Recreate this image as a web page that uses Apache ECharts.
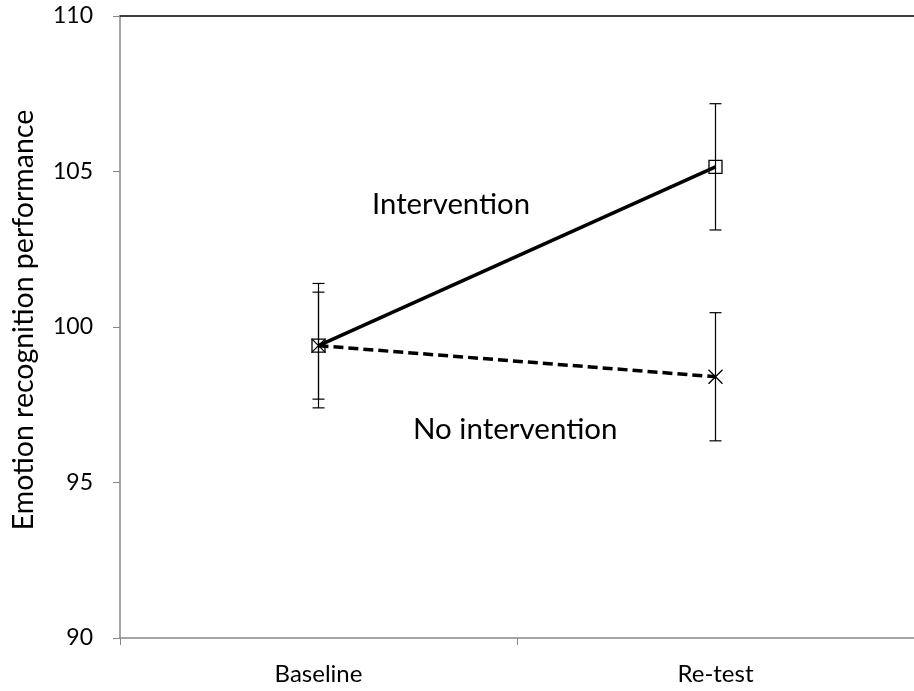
<!DOCTYPE html>
<html>
<head>
<meta charset="utf-8">
<script src="https://cdn.jsdelivr.net/npm/echarts@6/dist/echarts.min.js"></script>
<style>
html,body{margin:0;padding:0;background:#fff;}
#chart{width:914px;height:691px;}
</style>
</head>
<body>
<div id="chart"></div>
<script>
var categories = ['Baseline', 'Re-test'];
var interventionMean = [99.4, 105.15];
var interventionErr = [2.0, 2.03];
var noInterventionMean = [99.4, 98.4];
var noInterventionErr = [1.72, 2.06];
var yTicks = [90, 95, 100, 105, 110];

var FONT = 'Lato';
var chart = echarts.init(document.getElementById('chart'));

function errorSeries(name, means, errs) {
  var data = means.map(function (m, i) { return [i, m - errs[i], m + errs[i]]; });
  return {
    type: 'custom',
    name: name,
    z: 1,
    silent: true,
    data: data,
    encode: { x: 0, y: [1, 2] },
    renderItem: function (params, api) {
      var x = api.value(0);
      var lo = api.coord([x, api.value(1)]);
      var hi = api.coord([x, api.value(2)]);
      var hw = 6;
      var st = { stroke: '#000', lineWidth: 1.2, fill: null };
      return {
        type: 'group',
        children: [
          { type: 'line', shape: { x1: hi[0], y1: hi[1], x2: lo[0], y2: lo[1] }, style: st },
          { type: 'line', shape: { x1: hi[0] - hw, y1: hi[1], x2: hi[0] + hw, y2: hi[1] }, style: st },
          { type: 'line', shape: { x1: lo[0] - hw, y1: lo[1], x2: lo[0] + hw, y2: lo[1] }, style: st }
        ]
      };
    }
  };
}

var option = {
  backgroundColor: '#fff',
  animation: false,
  grid: { left: 120, top: 16, width: 800, height: 622, containLabel: false },
  xAxis: [{
    type: 'category',
    data: categories,
    boundaryGap: true,
    axisLine: { show: true, lineStyle: { color: '#888', width: 1.5 } },
    axisTick: { show: true, alignWithLabel: false, length: 7, lineStyle: { color: '#888' } },
    axisLabel: { color: '#000', fontFamily: FONT, fontSize: 24, margin: 24 },
    splitLine: { show: false }
  }, {
    type: 'category',
    data: categories,
    position: 'top',
    boundaryGap: true,
    axisLine: { show: true, lineStyle: { color: '#000', width: 1.5 } },
    axisTick: { show: false },
    axisLabel: { show: false },
    splitLine: { show: false }
  }],
  yAxis: {
    type: 'value',
    min: 90,
    max: 110,
    interval: 5,
    name: 'Emotion recognition performance',
    nameLocation: 'middle',
    nameGap: 82,
    nameTextStyle: { color: '#000', fontFamily: FONT, fontSize: 28.5, padding: [0, 0, 0, 14] },
    axisLine: { show: true, lineStyle: { color: '#888', width: 1.5 } },
    axisTick: { show: true, length: 7, lineStyle: { color: '#888' } },
    axisLabel: { color: '#000', fontFamily: FONT, fontSize: 23, margin: 27,
      formatter: function (v) { return yTicks.indexOf(v) >= 0 ? String(v) : ''; } },
    splitLine: { show: false }
  },
  series: [
    errorSeries('Intervention error', interventionMean, interventionErr),
    errorSeries('No intervention error', noInterventionMean, noInterventionErr),
    {
      type: 'line',
      name: 'No intervention',
      data: noInterventionMean,
      z: 2,
      lineStyle: { color: '#000', width: 3.5, type: [10, 5] },
      symbol: 'path://M0,0L10,10M10,0L0,10',
      symbolSize: 14,
      itemStyle: { color: 'none', borderColor: '#000', borderWidth: 1.3 }
    },
    {
      type: 'line',
      name: 'Intervention',
      data: interventionMean,
      z: 3,
      lineStyle: { color: '#000', width: 3.5 },
      symbol: 'rect',
      symbolSize: 13,
      itemStyle: { color: 'rgba(0,0,0,0)', borderColor: '#000', borderWidth: 1.3 }
    }
  ],
  graphic: [
    { type: 'text', left: 372, top: 190, style: { text: 'Intervention', fill: '#000', font: '29.3px ' + FONT } },
    { type: 'text', left: 413, top: 414, style: { text: 'No intervention', fill: '#000', font: '29.5px ' + FONT } }
  ]
};
chart.setOption(option);
</script>
</body>
</html>
